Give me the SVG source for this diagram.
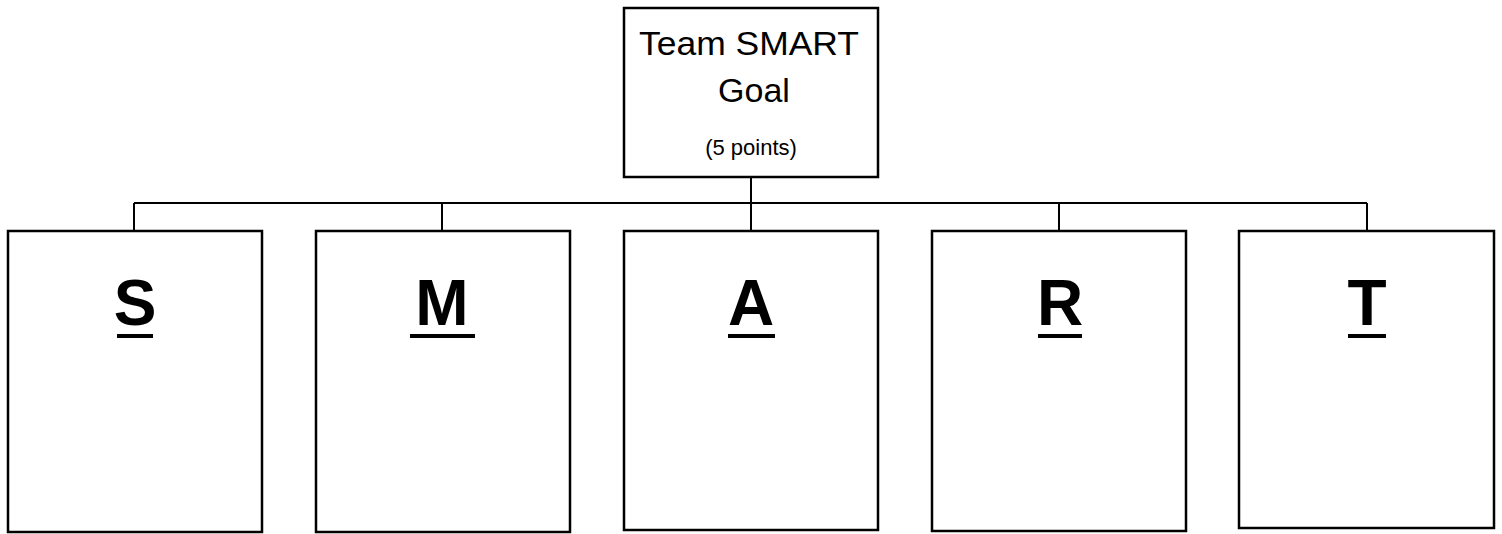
<svg xmlns="http://www.w3.org/2000/svg" width="1502" height="534" viewBox="0 0 1502 534">
  <style>
    .box { fill: #ffffff; stroke: #000000; stroke-width: 2.5; }
    .conn { fill: none; stroke: #000000; stroke-width: 2; }
    .title { font-family: "Liberation Sans", Arial, sans-serif; font-size: 34px; fill: #000000; text-anchor: middle; }
    .small { font-family: "Liberation Sans", Arial, sans-serif; font-size: 22px; fill: #000000; text-anchor: middle; }
    .letter { font-family: "Liberation Sans", Arial, sans-serif; font-size: 64px; font-weight: bold; fill: #000000; text-anchor: middle; }
    .ul { stroke: #000000; stroke-width: 4; }
  </style>
  <rect width="1502" height="534" fill="#ffffff"/>
  <g id="connectors">
    <path class="conn" d="M751 177 V203 M134 203 H1367 M134 203 V231 M442 203 V231 M751 203 V231 M1059 203 V231 M1367 203 V231"/>
  </g>
  <g id="node-goal">
    <rect class="box" x="624" y="8" width="254" height="169"/>
    <text class="title" x="749" y="55" textLength="220" lengthAdjust="spacingAndGlyphs">Team SMART</text>
    <text class="title" x="754" y="102">Goal</text>
    <text class="small" x="751" y="155">(5 points)</text>
  </g>
  <g id="node-s">
    <rect class="box" x="8" y="231" width="254" height="301"/>
    <text class="letter" x="135" y="325">S</text>
    <line class="ul" x1="117" y1="336" x2="153" y2="336"/>
  </g>
  <g id="node-m">
    <rect class="box" x="316" y="231" width="254" height="301"/>
    <text class="letter" x="442" y="325">M</text>
    <line class="ul" x1="410" y1="336" x2="475" y2="336"/>
  </g>
  <g id="node-a">
    <rect class="box" x="624" y="231" width="254" height="299"/>
    <text class="letter" x="751" y="325">A</text>
    <line class="ul" x1="728" y1="336" x2="775" y2="336"/>
  </g>
  <g id="node-r">
    <rect class="box" x="932" y="231" width="254" height="300"/>
    <text class="letter" x="1060" y="325">R</text>
    <line class="ul" x1="1038" y1="336" x2="1082" y2="336"/>
  </g>
  <g id="node-t">
    <rect class="box" x="1239" y="231" width="255" height="297"/>
    <text class="letter" x="1367" y="325">T</text>
    <line class="ul" x1="1348" y1="336" x2="1386" y2="336"/>
  </g>
</svg>
